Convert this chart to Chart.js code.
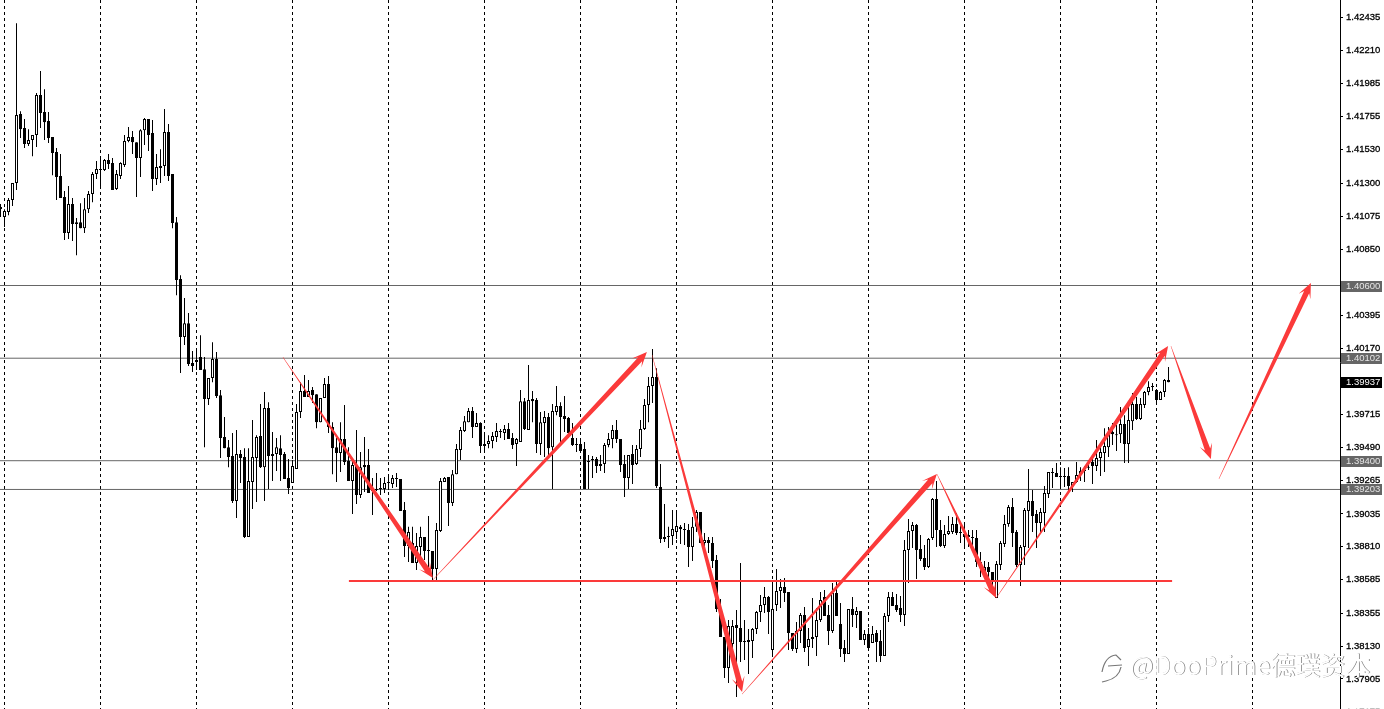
<!DOCTYPE html>
<html>
<head>
<meta charset="utf-8">
<style>html,body{margin:0;padding:0;background:#fff;overflow:hidden;width:1384px;height:709px}canvas{display:block}</style>
<script src="https://cdn.jsdelivr.net/npm/chart.js@4/dist/chart.umd.min.js"></script>
</head>
<body>
<canvas id="c" width="1384" height="724"></canvas>
<script>
const opens=[
1.41137,1.41069,1.41103,1.41185,1.41302,1.41774,1.41678,1.41569,1.41596,1.41630,
1.41904,1.41788,1.41726,1.41617,1.41514,1.41350,1.41206,1.40959,1.41158,1.41034,
1.41034,1.40993,1.41123,1.41226,1.41363,1.41391,1.41391,1.41459,1.41439,1.41261,
1.41350,1.41425,1.41589,1.41617,1.41582,1.41473,1.41664,1.41740,1.41644,1.41329,
1.41404,1.41418,1.41651,1.41363,1.41034,1.40644,1.40247,1.40342,1.40069,1.40076,
1.40110,1.40027,1.39822,1.39966,1.40096,1.39849,1.39562,1.39493,1.39432,1.39124,
1.39446,1.39425,1.38878,1.39254,1.39418,1.39569,1.39356,1.39761,1.39446,1.39446,
1.39486,1.39446,1.39281,1.39247,1.39343,1.39733,1.39877,1.39836,1.39884,1.39856,
1.39664,1.39829,1.39925,1.39630,1.39493,1.39452,1.39548,1.39398,1.39261,1.39370,
1.39165,1.39370,1.39370,1.39199,1.39206,1.39206,1.39206,1.39247,1.39240,1.39281,
1.39274,1.39063,1.38816,1.38836,1.38699,1.38809,1.38878,1.38781,1.38781,1.38658,
1.38919,1.39254,1.39288,1.39110,1.39308,1.39473,1.39603,1.39664,1.39740,1.39630,
1.39658,1.39514,1.39514,1.39535,1.39562,1.39603,1.39589,1.39617,1.39555,1.39514,
1.39528,1.39808,1.39610,1.39822,1.39815,1.39514,1.39658,1.39699,1.39493,1.39733,
1.39774,1.39706,1.39692,1.39555,1.39507,1.39514,1.39480,1.39398,1.39405,1.39411,
1.39377,1.39377,1.39507,1.39548,1.39610,1.39548,1.39377,1.39281,1.39446,1.39377,
1.39480,1.39617,1.39781,1.39911,1.39973,1.39220,1.38864,1.38878,1.38885,1.38912,
1.38947,1.38932,1.38925,1.38809,1.38947,1.39049,1.38836,1.38857,1.38836,1.38720,
1.38391,1.38193,1.37980,1.38145,1.38275,1.38254,1.38165,1.38172,1.38165,1.38247,
1.38364,1.38412,1.38466,1.38104,1.38412,1.38508,1.38535,1.38501,1.38220,1.38110,
1.38234,1.38343,1.38124,1.38193,1.38193,1.38309,1.38466,1.38343,1.38234,1.38494,
1.38282,1.38117,1.38076,1.38384,1.38343,1.38371,1.38172,1.38213,1.38152,1.38220,
1.38165,1.38063,1.38336,1.38466,1.38412,1.38391,1.38343,1.38788,1.38919,1.38960,
1.38795,1.38734,1.38672,1.38871,1.39138,1.38925,1.38816,1.38898,1.38912,1.38966,
1.38912,1.38898,1.38891,1.38878,1.38871,1.38706,1.38637,1.38672,1.38637,1.38460,
1.38685,1.38829,1.38966,1.39083,1.38912,1.38685,1.38809,1.39056,1.39124,1.39035,
1.38973,1.39042,1.39172,1.39322,1.39315,1.39295,1.39288,1.39295,1.39226,1.39254,
1.39302,1.39329,1.39356,1.39391,1.39363,1.39418,1.39452,1.39493,1.39596,1.39582,
1.39582,1.39651,1.39514,1.39671,1.39788,1.39685,1.39781,1.39870,1.39904,1.39884,
1.39815,1.39870,1.39952];
const highs=[
1.41158,1.41123,1.41199,1.41302,1.42397,1.41794,1.41740,1.41671,1.41630,1.41918,
1.42069,1.41945,1.41788,1.41617,1.41541,1.41500,1.41247,1.41281,1.41199,1.41062,
1.41164,1.41199,1.41247,1.41377,1.41452,1.41466,1.41466,1.41500,1.41473,1.41391,
1.41445,1.41630,1.41685,1.41658,1.41582,1.41671,1.41747,1.41740,1.41733,1.41500,
1.41534,1.41809,1.41706,1.41363,1.41069,1.40671,1.40514,1.40411,1.40151,1.40151,
1.40260,1.40110,1.39966,1.40212,1.40144,1.39884,1.39699,1.39541,1.39589,1.39610,
1.39473,1.39486,1.39486,1.39678,1.39575,1.39788,1.39870,1.39801,1.39596,1.39555,
1.39575,1.39459,1.39411,1.39405,1.39788,1.39938,1.39987,1.39952,1.39904,1.39856,
1.39829,1.39966,1.39980,1.39664,1.39555,1.39664,1.39781,1.39493,1.39405,1.39610,
1.39459,1.39562,1.39480,1.39281,1.39315,1.39281,1.39288,1.39302,1.39302,1.39315,
1.39274,1.39117,1.38947,1.38947,1.38905,1.38947,1.38878,1.39021,1.38781,1.38973,
1.39281,1.39288,1.39288,1.39336,1.39514,1.39630,1.39706,1.39761,1.39767,1.39726,
1.39664,1.39589,1.39575,1.39596,1.39658,1.39617,1.39644,1.39658,1.39589,1.39555,
1.39884,1.39829,1.40055,1.39877,1.39829,1.39733,1.39740,1.39726,1.39788,1.39911,
1.39801,1.39843,1.39699,1.39658,1.39555,1.39555,1.39528,1.39439,1.39432,1.39425,
1.39439,1.39521,1.39589,1.39644,1.39678,1.39548,1.39439,1.39439,1.39507,1.39507,
1.39678,1.39822,1.39973,1.40165,1.40034,1.39377,1.39103,1.38947,1.39063,1.39042,
1.38960,1.38973,1.38966,1.39014,1.39063,1.39049,1.38905,1.38878,1.38878,1.38754,
1.38453,1.38193,1.38309,1.38309,1.38378,1.38699,1.38309,1.38247,1.38254,1.38371,
1.38480,1.38535,1.38473,1.38583,1.38658,1.38590,1.38596,1.38501,1.38220,1.38295,
1.38357,1.38398,1.38254,1.38460,1.38391,1.38501,1.38515,1.38412,1.38562,1.38569,
1.38425,1.38172,1.38384,1.38466,1.38398,1.38371,1.38240,1.38254,1.38268,1.38240,
1.38240,1.38357,1.38501,1.38501,1.38487,1.38473,1.38857,1.39001,1.38980,1.38966,
1.38891,1.38823,1.38871,1.39145,1.39261,1.38994,1.38960,1.39021,1.39014,1.39042,
1.38980,1.38980,1.38925,1.38925,1.38925,1.38775,1.38713,1.38706,1.38637,1.38713,
1.38850,1.39028,1.39097,1.39145,1.38925,1.38823,1.39076,1.39343,1.39199,1.39063,
1.39076,1.39226,1.39322,1.39350,1.39384,1.39356,1.39350,1.39356,1.39254,1.39391,
1.39356,1.39363,1.39405,1.39425,1.39541,1.39493,1.39623,1.39630,1.39658,1.39644,
1.39767,1.39712,1.39788,1.39863,1.39836,1.39829,1.39877,1.39945,1.39932,1.39891,
1.39877,1.39959,1.40041];
const lows=[
1.41069,1.41000,1.41082,1.41144,1.41254,1.41610,1.41541,1.41555,1.41486,1.41548,
1.41678,1.41596,1.41576,1.41356,1.41185,1.41199,1.40911,1.40918,1.40904,1.40808,
1.40993,1.40959,1.41096,1.41171,1.41329,1.41267,1.41384,1.41398,1.41254,1.41254,
1.41329,1.41411,1.41582,1.41500,1.41206,1.41343,1.41562,1.41521,1.41247,1.41288,
1.41302,1.41350,1.41315,1.40993,1.40534,1.40000,1.40192,1.40048,1.40007,1.40021,
1.40021,1.39493,1.39781,1.39938,1.39829,1.39418,1.39486,1.39356,1.39110,1.39008,
1.39247,1.38871,1.38878,1.39069,1.39117,1.39350,1.39124,1.39206,1.39261,1.39329,
1.39261,1.39274,1.39172,1.39247,1.39343,1.39692,1.39836,1.39836,1.39795,1.39623,
1.39664,1.39829,1.39589,1.39308,1.39254,1.39322,1.39370,1.39261,1.39035,1.39103,
1.39145,1.39185,1.39179,1.39028,1.39192,1.39165,1.39179,1.39199,1.39213,1.39220,
1.39056,1.38741,1.38706,1.38699,1.38651,1.38699,1.38720,1.38637,1.38583,1.38583,
1.38912,1.39254,1.38953,1.39090,1.39308,1.39405,1.39596,1.39664,1.39555,1.39630,
1.39452,1.39452,1.39486,1.39486,1.39528,1.39555,1.39541,1.39548,1.39480,1.39363,
1.39528,1.39610,1.39610,1.39664,1.39452,1.39439,1.39425,1.39425,1.39206,1.39712,
1.39528,1.39596,1.39555,1.39500,1.39459,1.39459,1.39206,1.39206,1.39281,1.39315,
1.39329,1.39315,1.39493,1.39486,1.39521,1.39322,1.39151,1.39206,1.39240,1.39370,
1.39425,1.39610,1.39664,1.39795,1.39213,1.38836,1.38843,1.38802,1.38823,1.38864,
1.38829,1.38823,1.38672,1.38713,1.38912,1.38836,1.38768,1.38768,1.38665,1.38364,
1.38193,1.37912,1.37877,1.38083,1.37781,1.38022,1.38035,1.37939,1.38049,1.38213,
1.38295,1.38357,1.38213,1.38063,1.38371,1.38391,1.38432,1.38104,1.38097,1.38083,
1.38152,1.38090,1.37994,1.38117,1.38063,1.38295,1.38336,1.38138,1.38220,1.38336,
1.38056,1.38022,1.38076,1.38261,1.38254,1.38172,1.38138,1.38104,1.38152,1.38022,
1.38022,1.38063,1.38295,1.38405,1.38364,1.38295,1.38268,1.38562,1.38802,1.38590,
1.38713,1.38651,1.38665,1.38857,1.38809,1.38809,1.38802,1.38891,1.38898,1.38891,
1.38836,1.38802,1.38809,1.38802,1.38672,1.38603,1.38603,1.38603,1.38487,1.38460,
1.38651,1.38809,1.38947,1.38809,1.38672,1.38542,1.38685,1.38802,1.38912,1.38802,
1.38905,1.38912,1.39145,1.39213,1.39288,1.39213,1.39220,1.39185,1.39185,1.39247,
1.39261,1.39254,1.39336,1.39240,1.39329,1.39295,1.39322,1.39425,1.39507,1.39466,
1.39521,1.39384,1.39384,1.39610,1.39678,1.39678,1.39761,1.39849,1.39877,1.39795,
1.39815,1.39836,1.39937];
const closes=[
1.41123,1.41110,1.41185,1.41302,1.41767,1.41671,1.41569,1.41596,1.41630,1.41904,
1.41781,1.41719,1.41610,1.41507,1.41343,1.41199,1.40959,1.41158,1.41021,1.41021,
1.40993,1.41123,1.41226,1.41363,1.41398,1.41398,1.41459,1.41432,1.41254,1.41363,
1.41439,1.41589,1.41617,1.41582,1.41473,1.41664,1.41740,1.41630,1.41329,1.41411,
1.41418,1.41651,1.41350,1.41028,1.40637,1.40247,1.40342,1.40062,1.40048,1.40089,
1.40021,1.39822,1.39966,1.40096,1.39843,1.39555,1.39486,1.39425,1.39124,1.39446,
1.39418,1.38878,1.39261,1.39425,1.39562,1.39356,1.39761,1.39432,1.39432,1.39493,
1.39439,1.39274,1.39213,1.39363,1.39733,1.39877,1.39836,1.39877,1.39849,1.39664,
1.39829,1.39925,1.39630,1.39486,1.39452,1.39548,1.39391,1.39261,1.39370,1.39165,
1.39356,1.39356,1.39179,1.39192,1.39199,1.39213,1.39247,1.39254,1.39281,1.39274,
1.39056,1.38816,1.38912,1.38699,1.38816,1.38878,1.38781,1.38788,1.38658,1.38925,
1.39261,1.39281,1.39110,1.39308,1.39480,1.39610,1.39671,1.39740,1.39630,1.39658,
1.39500,1.39500,1.39535,1.39569,1.39603,1.39596,1.39617,1.39548,1.39507,1.39548,
1.39808,1.39617,1.39815,1.39808,1.39514,1.39664,1.39699,1.39486,1.39740,1.39774,
1.39699,1.39685,1.39589,1.39507,1.39514,1.39466,1.39206,1.39391,1.39411,1.39363,
1.39363,1.39507,1.39548,1.39610,1.39548,1.39370,1.39281,1.39439,1.39370,1.39480,
1.39617,1.39781,1.39911,1.39973,1.39226,1.38864,1.38878,1.38885,1.38932,1.38953,
1.38932,1.38925,1.38809,1.38947,1.39049,1.38836,1.38857,1.38836,1.38713,1.38384,
1.38193,1.37980,1.38268,1.38268,1.38254,1.38158,1.38158,1.38158,1.38247,1.38364,
1.38412,1.38466,1.38364,1.38384,1.38508,1.38535,1.38494,1.38220,1.38110,1.38234,
1.38343,1.38117,1.38179,1.38179,1.38309,1.38446,1.38336,1.38234,1.38494,1.38336,
1.38110,1.38076,1.38384,1.38343,1.38371,1.38172,1.38213,1.38117,1.38213,1.38158,
1.38063,1.38336,1.38466,1.38405,1.38378,1.38343,1.38788,1.38919,1.38960,1.38788,
1.38727,1.38672,1.38864,1.39138,1.38925,1.38816,1.38898,1.38919,1.38966,1.38905,
1.38905,1.38878,1.38878,1.38871,1.38706,1.38672,1.38672,1.38637,1.38576,1.38692,
1.38836,1.38966,1.39083,1.38905,1.38685,1.38809,1.39063,1.39124,1.39021,1.38973,
1.39049,1.39179,1.39322,1.39315,1.39288,1.39288,1.39295,1.39226,1.39254,1.39302,
1.39329,1.39336,1.39350,1.39363,1.39418,1.39459,1.39500,1.39596,1.39582,1.39575,
1.39651,1.39514,1.39678,1.39788,1.39685,1.39788,1.39870,1.39904,1.39911,1.39815,
1.39870,1.39952,1.39937];

const axisTicks=[1.42435,1.42210,1.41985,1.41755,1.41530,1.41300,1.41075,1.40850,1.40395,1.40170,1.39715,1.39490,1.39265,1.39035,1.38810,1.38585,1.38355,1.38130,1.37905,1.37675];
const levelPrices=[1.40600,1.40102,1.39400,1.39203];
const lastPrice=1.39937;
const gridCandles=[1,25,49,73,97,121,145,169,193,217,241,265,289,313];
const supportPrice=1.38576, supportFrom=87.1, supportTo=292.9;
const arrowFromK=[70.6,108.1,162.9,185.4,234.1,248.9,292.6,304.6];
const arrowFromP=[1.40110,1.38583,1.40124,1.37802,1.39309,1.38459,1.40186,1.39275];
const arrowToK=[108.1,161.6,185.4,234.1,248.9,291.9,302.6,327.6];
const arrowToP=[1.38596,1.40144,1.37816,1.39309,1.38459,1.40186,1.39412,1.40617];
const watermark='@DooPrime德璞资本';

const BLACK='#000', WHITE='#fff', GREY='#666', RED='#fb3a3a';
const idx=opens.map((_,i)=>i);
const wicks=idx.map(i=>({x:i,y:[lows[i],highs[i]]}));
const bodies=idx.map(i=>({x:i,y:[opens[i],closes[i]]}));
const fills=idx.map(i=>closes[i]>opens[i]?WHITE:BLACK);

const overlay={
  id:'overlay',
  afterDatasetsDraw(chart){
    const {ctx,scales:{x,y}}=chart;
    ctx.save();
    ctx.fillStyle=RED;
    arrowFromK.forEach((_,i)=>{
      const sx=x.getPixelForValue(arrowFromK[i]), sy=y.getPixelForValue(arrowFromP[i]);
      const ex=x.getPixelForValue(arrowToK[i]), ey=y.getPixelForValue(arrowToP[i]);
      const L=Math.hypot(ex-sx,ey-sy), ux=(ex-sx)/L, uy=(ey-sy)/L, nx=-uy, ny=ux;
      const pt=(b,s)=>[ex-ux*b+nx*s, ey-uy*b+ny*s];
      const poly=[[sx+nx*.2,sy+ny*.2],pt(10,2.8),pt(15,6.5),[ex,ey],pt(15,-6.5),pt(10,-2.8),[sx-nx*.2,sy-ny*.2]];
      ctx.beginPath();
      poly.forEach((p,j)=>j?ctx.lineTo(p[0],p[1]):ctx.moveTo(p[0],p[1]));
      ctx.closePath();ctx.fill();
    });
    ctx.restore();
  },
  afterDraw(chart){
    const {ctx,scales:{y}}=chart;
    ctx.save();
    ctx.font='9.5px "Liberation Sans"';
    ctx.textBaseline='middle';ctx.textAlign='left';
    const badge=(p,bg)=>{
      const py=Math.round(y.getPixelForValue(p));
      ctx.fillStyle=bg;ctx.fillRect(1341,py-5,41,11);
      ctx.fillStyle=bg===BLACK?WHITE:'#e6e6e6';
      ctx.fillText(p.toFixed(5),1346,py+.5);
    };
    levelPrices.forEach(p=>badge(p,GREY));
    badge(lastPrice,BLACK);
    // watermark
    const wy=665;
    ctx.font='25px "Noto Sans CJK SC","Noto Sans"';
    ctx.fillStyle='#777';ctx.fillText(watermark,1130.7,wy+.8);
    ctx.fillStyle='#fff';ctx.fillText(watermark,1130,wy);
    ctx.strokeStyle='#777';ctx.lineWidth=1.2;
    ctx.beginPath();ctx.moveTo(1102,672);ctx.quadraticCurveTo(1105,656,1116,655);ctx.lineTo(1121,660);ctx.stroke();
    ctx.beginPath();ctx.moveTo(1108,666);ctx.lineTo(1122,665);ctx.stroke();
    ctx.beginPath();ctx.moveTo(1121,667);ctx.quadraticCurveTo(1119,678,1106,681);ctx.lineTo(1102,682);ctx.stroke();
    ctx.restore();
  }
};

const line=(data,color,width,order)=>({type:'line',data,borderColor:color,borderWidth:width,pointRadius:0,order,fill:false,tension:0});
const datasets=[
  ...levelPrices.map(p=>line([{x:-0.125,y:p},{x:334.875,y:p}],GREY,1,10)),
  {type:'bar',data:wicks,backgroundColor:BLACK,borderWidth:0,barThickness:1,grouped:false,inflateAmount:0,order:6},
  {type:'bar',data:bodies,backgroundColor:fills,borderColor:BLACK,borderWidth:1,borderSkipped:false,barThickness:3,grouped:false,inflateAmount:0,order:5},
  line([{x:supportFrom,y:supportPrice},{x:supportTo,y:supportPrice}],RED,2,1)
];

new Chart(document.getElementById('c'),{
  type:'bar',
  data:{datasets},
  plugins:[overlay],
  options:{
    responsive:false,animation:false,
    layout:{padding:0},
    plugins:{legend:{display:false},tooltip:{enabled:false},title:{display:false}},
    scales:{
      x:{type:'linear',min:-0.125,max:334.875,offset:false,
        afterBuildTicks(s){s.ticks=gridCandles.map(value=>({value}));},
        afterFit(s){s.height=0;},
        ticks:{display:false,autoSkip:false},
        grid:{offset:false,color:BLACK,lineWidth:1,drawTicks:false},
        border:{display:false,dash:[3,3]}},
      y:{type:'linear',position:'right',min:1.375966,max:1.425555,
        afterBuildTicks(s){s.ticks=axisTicks.map(value=>({value}));},
        afterFit(s){s.width=44;s.paddingTop=0;s.paddingBottom=0;},
        ticks:{autoSkip:false,padding:3,color:BLACK,textStrokeColor:BLACK,textStrokeWidth:0.3,font:{family:'"Liberation Sans"',size:9.5},callback:v=>v.toFixed(5)},
        grid:{drawOnChartArea:false,drawTicks:true,tickLength:3,color:BLACK},
        border:{display:true,color:BLACK,width:1}}
    }
  }
});
</script>
</body>
</html>
